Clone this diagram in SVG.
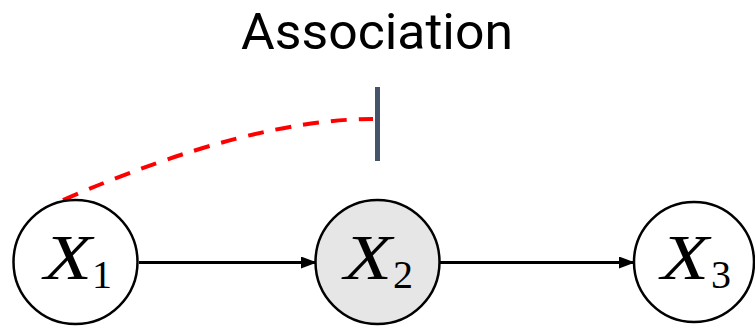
<svg xmlns="http://www.w3.org/2000/svg" width="755" height="328" viewBox="0 0 755 328">
<defs>
<marker id="ah" markerWidth="16" markerHeight="12" refX="15" refY="6" orient="auto" markerUnits="userSpaceOnUse" viewBox="0 0 16 12">
<path d="M0,0 L16,6 L0,12 z" fill="#000"/>
</marker>
<style>
.node{stroke:#000;stroke-width:2.5}
.lx{font-family:"Liberation Serif",serif;font-style:italic;font-size:64px;fill:#000}
.ls{font-family:"Liberation Serif",serif;font-size:40px;fill:#000}
.edge{stroke:#000;stroke-width:3;fill:none}
</style>
</defs>
<rect width="755" height="328" fill="#fff"/>
<text x="377" y="49" text-anchor="middle" font-family="Roboto, sans-serif" font-size="50" textLength="272" lengthAdjust="spacingAndGlyphs" fill="#000">Association</text>
<g id="connectors">
<line class="edge" x1="139" y1="262.5" x2="316" y2="262.5" marker-end="url(#ah)"/>
<line class="edge" x1="440" y1="262.5" x2="634" y2="262.5" marker-end="url(#ah)"/>
<path d="M63,200 Q250,119 373,119" fill="none" stroke="#ff0000" stroke-width="4" stroke-dasharray="16,12"/>
<line x1="377.5" y1="87" x2="377.5" y2="161" stroke="#44546a" stroke-width="5"/>
</g>
<g id="X1">
<circle class="node" cx="75.5" cy="262" r="62" fill="#fff"/>
<text class="lx" x="44" y="279" textLength="48" lengthAdjust="spacingAndGlyphs">X</text>
<text class="ls" x="92" y="288">1</text>
</g>
<g id="X2">
<circle class="node" cx="377.5" cy="262" r="62" fill="#e6e6e6"/>
<text class="lx" x="344" y="279" textLength="48" lengthAdjust="spacingAndGlyphs">X</text>
<text class="ls" x="393" y="288">2</text>
</g>
<g id="X3">
<circle class="node" cx="694" cy="262" r="60" fill="#fff"/>
<text class="lx" x="661" y="279" textLength="48" lengthAdjust="spacingAndGlyphs">X</text>
<text class="ls" x="711" y="288">3</text>
</g>
</svg>
